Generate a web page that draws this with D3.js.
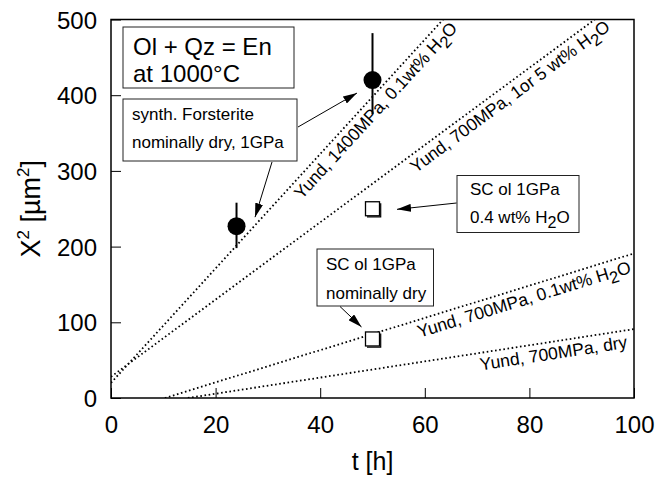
<!DOCTYPE html>
<html>
<head>
<meta charset="utf-8">
<script src="https://cdn.jsdelivr.net/npm/d3@7"></script>
<style>
body { margin: 0; background: #fff; }
text { font-family: 'Liberation Sans', Arial, Helvetica, sans-serif; fill: #000; }
</style>
</head>
<body>
<div id="chart"></div>
<script>
'use strict';

// synthetic forsterite runs (filled circles with error bars)
var runTimes = [24, 50];
var runValues = [227, 420];
var runLow = [198, 375];
var runHigh = [258, 482];

// SC olivine runs (open squares)
var scTimes = [50, 50];
var scValues = [250, 78];

// Yund rate laws, drawn as dotted lines
var yundLabels = ['Yund, 1400MPa, 0.1wt% H_2O', 'Yund, 700MPa, 1or 5 wt% H_2O',
    'Yund, 700MPa, 0.1wt% H_2O', 'Yund, 700MPa, dry'];
var yundFrom = [[0, 20], [0, 28], [10.3, 0], [14.7, 0]];
var yundTo = [[63.5, 500], [92.5, 500], [100, 191], [100, 91]];

var xTicks = [0, 20, 40, 60, 80, 100];
var yTicks = [0, 100, 200, 300, 400, 500];

var width = 655, height = 478;

var x = d3.scaleLinear().domain([0, 100]).range([111, 634]);
var y = d3.scaleLinear().domain([0, 500]).range([398, 19.5]);

var svg = d3.select('#chart').append('svg')
    .attr('width', width)
    .attr('height', height);

var defs = svg.append('defs');
defs.append('clipPath').attr('id', 'plotClip')
    .append('rect')
    .attr('x', x(0)).attr('y', y(500))
    .attr('width', x(100) - x(0)).attr('height', y(0) - y(500));

defs.append('marker')
    .attr('id', 'head')
    .attr('markerUnits', 'userSpaceOnUse')
    .attr('viewBox', '0 0 14 8')
    .attr('refX', 14).attr('refY', 4)
    .attr('markerWidth', 14).attr('markerHeight', 8)
    .attr('orient', 'auto')
    .append('path')
    .attr('d', 'M0,0L14,4L0,8Z')
    .attr('fill', '#000');

// writes "H_2O" style strings with a subscript digit
function richText(sel, str, size) {
    var shift = 0;
    str.split(/(_\d)/).forEach(function(part) {
        if (!part) return;
        if (part[0] === '_') {
            sel.append('tspan').attr('dy', size * 0.3).attr('font-size', size * 0.95).text(part.slice(1));
            shift = -size * 0.3;
        } else {
            sel.append('tspan').attr('dy', shift).text(part);
            shift = 0;
        }
    });
}

// dotted rate lines
var plot = svg.append('g').attr('clip-path', 'url(#plotClip)');
plot.selectAll('line.yund')
    .data(yundLabels)
    .enter().append('line')
    .attr('class', 'yund')
    .attr('x1', function(d, i) { return x(yundFrom[i][0]); })
    .attr('y1', function(d, i) { return y(yundFrom[i][1]); })
    .attr('x2', function(d, i) { return x(yundTo[i][0]); })
    .attr('y2', function(d, i) { return y(yundTo[i][1]); })
    .attr('stroke', '#000')
    .attr('stroke-width', 1.8)
    .attr('stroke-dasharray', '1.6,2.6');

// line labels, placed along each line
var labelStart = [34.0, 56.3, 58.0, 70.2];
var labelSize = 17.5;
svg.selectAll('text.yund')
    .data(yundLabels)
    .enter().append('text')
    .attr('class', 'yund')
    .attr('font-size', labelSize)
    .attr('transform', function(d, i) {
        var a = yundFrom[i], b = yundTo[i];
        var slope = (b[1] - a[1]) / (b[0] - a[0]);
        var t = labelStart[i];
        var v = a[1] + slope * (t - a[0]);
        var ang = Math.atan2(y(b[1]) - y(a[1]), x(b[0]) - x(a[0])) * 180 / Math.PI;
        return 'translate(' + x(t) + ',' + y(v) + ') rotate(' + ang + ')';
    })
    .attr('y', 17.5)
    .each(function(d) { richText(d3.select(this), d, labelSize); });

// frame and ticks
svg.append('rect')
    .attr('x', x(0)).attr('y', y(500))
    .attr('width', x(100) - x(0)).attr('height', y(0) - y(500))
    .attr('fill', 'none')
    .attr('stroke', '#000')
    .attr('stroke-width', 1.5);

var xAxis = d3.axisBottom(x).tickValues(xTicks).tickSize(-10).tickPadding(18).tickFormat(d3.format('d'));
var yAxis = d3.axisLeft(y).tickValues(yTicks).tickSize(-10).tickPadding(14).tickFormat(d3.format('d'));

var gx = svg.append('g').attr('transform', 'translate(0,' + y(0) + ')').call(xAxis);
var gy = svg.append('g').attr('transform', 'translate(' + x(0) + ',0)').call(yAxis);
[gx, gy].forEach(function(g) {
    g.select('.domain').remove();
    g.selectAll('.tick line').attr('stroke', '#000').attr('stroke-width', 1);
    g.selectAll('.tick text').attr('font-size', 24).attr('font-family', null);
});
gx.selectAll('.tick text').attr('dy', '0.71em');
gy.selectAll('.tick text').attr('dy', '0.36em');

svg.append('text')
    .attr('x', (x(0) + x(100)) / 2)
    .attr('y', 470)
    .attr('text-anchor', 'middle')
    .attr('font-size', 25)
    .text('t [h]');

var yTitle = svg.append('text')
    .attr('transform', 'translate(40,' + (y(0) + y(500)) / 2 + ') rotate(-90)')
    .attr('text-anchor', 'middle')
    .attr('font-size', 27);
yTitle.append('tspan').text('X');
yTitle.append('tspan').attr('dy', -11).attr('font-size', 17).text('2');
yTitle.append('tspan').attr('dy', 11).text(' [µm');
yTitle.append('tspan').attr('dy', -11).attr('font-size', 17).text('2');
yTitle.append('tspan').attr('dy', 11).text(']');

// error bars and circles
svg.selectAll('line.err')
    .data(runTimes)
    .enter().append('line')
    .attr('class', 'err')
    .attr('x1', function(d) { return x(d); })
    .attr('x2', function(d) { return x(d); })
    .attr('y1', function(d, i) { return y(runLow[i]); })
    .attr('y2', function(d, i) { return y(runHigh[i]); })
    .attr('stroke', '#000')
    .attr('stroke-width', 2);

svg.selectAll('circle.run')
    .data(runTimes)
    .enter().append('circle')
    .attr('class', 'run')
    .attr('cx', function(d) { return x(d); })
    .attr('cy', function(d, i) { return y(runValues[i]); })
    .attr('r', 9)
    .attr('fill', '#000');

// open squares
var sq = 14;
svg.selectAll('path.sc')
    .data(scTimes)
    .enter().append('path')
    .attr('class', 'sc')
    .attr('d', function(d, i) {
        var cx = x(d), cy = y(scValues[i]);
        return 'M' + (cx - sq / 2 + 1.5) + ',' + (cy + sq / 2 + 1.2) + 'H' + (cx + sq / 2 + 1.2) + 'V' + (cy - sq / 2 + 1.5);
    })
    .attr('fill', 'none')
    .attr('stroke', '#000')
    .attr('stroke-width', 1.2);
svg.selectAll('rect.sc')
    .data(scTimes)
    .enter().append('rect')
    .attr('class', 'sc')
    .attr('x', function(d) { return x(d) - sq / 2; })
    .attr('y', function(d, i) { return y(scValues[i]) - sq / 2; })
    .attr('width', sq).attr('height', sq)
    .attr('fill', '#fff')
    .attr('stroke', '#000')
    .attr('stroke-width', 1.3);

// annotation boxes
var boxes = [
    { x: 123, y: 27, w: 171, h: 61, tx: 133, size: 24, lines: [[55, 'Ol + Qz = En'], [82, 'at 1000°C']] },
    { x: 123, y: 99, w: 174, h: 62, tx: 132, size: 17, lines: [[120, 'synth. Forsterite'], [148, 'nominally dry, 1GPa']] },
    { x: 457, y: 175.5, w: 122, h: 57, tx: 470, size: 17, lines: [[194.5, 'SC ol 1GPa'], [222.5, '0.4 wt% H_2O']] },
    { x: 317, y: 249, w: 116.5, h: 57, tx: 326, size: 17, lines: [[270, 'SC ol 1GPa'], [298.5, 'nominally dry']] }
];

var box = svg.selectAll('g.box')
    .data(boxes)
    .enter().append('g')
    .attr('class', 'box');
box.append('rect')
    .attr('x', function(d) { return d.x; })
    .attr('y', function(d) { return d.y; })
    .attr('width', function(d) { return d.w; })
    .attr('height', function(d) { return d.h; })
    .attr('fill', '#fff')
    .attr('stroke', '#222')
    .attr('stroke-width', 1);
box.each(function(d) {
    var g = d3.select(this);
    d.lines.forEach(function(l) {
        var t = g.append('text')
            .attr('x', d.tx)
            .attr('y', l[0])
            .attr('font-size', d.size);
        richText(t, l[1], d.size);
    });
});

// arrows from boxes to the points
var arrows = [
    { from: [298, 127], to: [x(runTimes[1]) - 15.5, y(runValues[1]) + 13] },
    { from: [272, 162], to: [x(runTimes[0]) + 18.5, y(runValues[0]) - 9] },
    { from: [456.5, 203], to: [x(scTimes[0]) + 24.5, y(scValues[0]) + 0.6] },
    { from: [340, 306.5], to: [x(scTimes[1]) - 11, y(scValues[1]) - 12] }
];
svg.selectAll('line.arrow')
    .data(arrows)
    .enter().append('line')
    .attr('class', 'arrow')
    .attr('x1', function(d) { return d.from[0]; })
    .attr('y1', function(d) { return d.from[1]; })
    .attr('x2', function(d) { return d.to[0]; })
    .attr('y2', function(d) { return d.to[1]; })
    .attr('stroke', '#000')
    .attr('stroke-width', 1)
    .attr('marker-end', 'url(#head)');
</script>
</body>
</html>
